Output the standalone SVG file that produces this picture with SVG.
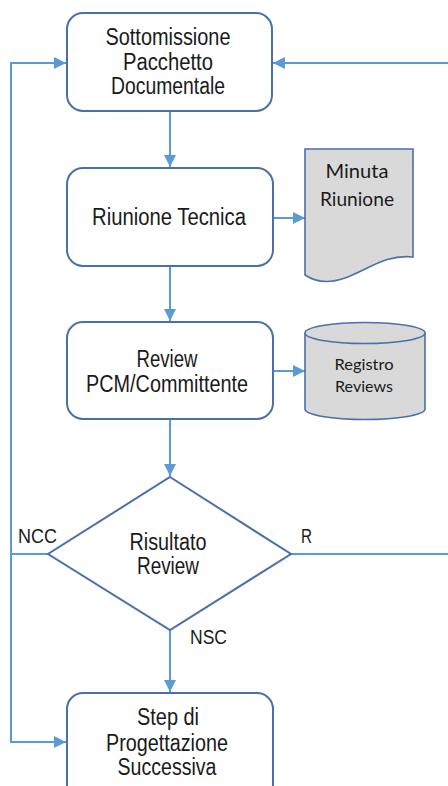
<svg xmlns="http://www.w3.org/2000/svg" width="448" height="786" viewBox="0 0 448 786">
  <style>
    .box { fill: #ffffff; stroke: #4a70aa; stroke-width: 2; }
    .store { fill: #d9d9d9; stroke: #4a70aa; stroke-width: 1.6; }
    .conn { fill: none; stroke: #5b9bd5; stroke-width: 2; }
    .t { font-family: "Liberation Sans", Arial, sans-serif; font-size: 23px; fill: #1a1a1a; text-anchor: middle; }
    .lbl { font-family: "Liberation Sans", Arial, sans-serif; font-size: 20px; fill: #1a1a1a; }
    .c { font-family: Lato, "Open Sans", sans-serif; fill: #1a1a1a; text-anchor: middle; }
  </style>
  <defs>
    <marker id="arrow" markerUnits="userSpaceOnUse" markerWidth="12" markerHeight="12" viewBox="0 0 12 12" refX="12" refY="6" orient="auto">
      <path d="M0,0 L12,6 L0,12 Z" fill="#5b9bd5"/>
    </marker>
  </defs>

  <!-- connectors -->
  <g id="connectors">
    <path class="conn" d="M170,111 V167" marker-end="url(#arrow)"/>
    <path class="conn" d="M170,266 V321" marker-end="url(#arrow)"/>
    <path class="conn" d="M170,419 V476" marker-end="url(#arrow)"/>
    <path class="conn" d="M170,630 V692" marker-end="url(#arrow)"/>
    <path class="conn" d="M273,218 H305" marker-end="url(#arrow)"/>
    <path class="conn" d="M273,371 H305" marker-end="url(#arrow)"/>
    <!-- NCC loop back to submission and forward to next step -->
    <path class="conn" d="M48,554 H11 V63 H66" marker-end="url(#arrow)"/>
    <path class="conn" d="M11,554 V742 H66" marker-end="url(#arrow)"/>
    <!-- R loop back to submission -->
    <path class="conn" d="M291,554 H452 V63 H273" marker-end="url(#arrow)"/>
    <text class="lbl" x="18" y="543" textLength="39" lengthAdjust="spacingAndGlyphs">NCC</text>
    <text class="lbl" x="301" y="543" textLength="11" lengthAdjust="spacingAndGlyphs">R</text>
    <text class="lbl" x="190" y="644" textLength="37" lengthAdjust="spacingAndGlyphs">NSC</text>
  </g>

  <g id="sottomissione">
    <rect class="box" x="67" y="13" width="205" height="98" rx="16"/>
    <text class="t" x="168" y="45" textLength="125" lengthAdjust="spacingAndGlyphs">Sottomissione</text>
    <text class="t" x="168" y="70" textLength="90" lengthAdjust="spacingAndGlyphs">Pacchetto</text>
    <text class="t" x="168" y="94" textLength="114" lengthAdjust="spacingAndGlyphs">Documentale</text>
  </g>

  <g id="riunione">
    <rect class="box" x="67" y="168" width="206" height="98" rx="16"/>
    <text class="t" x="169" y="225" textLength="154" lengthAdjust="spacingAndGlyphs">Riunione  Tecnica</text>
  </g>

  <g id="minuta">
    <path class="store" d="M305,149 H413 V257 C385,254 368,270 345,278 C328,284 314,281 305,275 Z"/>
    <text class="c" x="357" y="178" font-size="19" textLength="63" lengthAdjust="spacingAndGlyphs">Minuta</text>
    <text class="c" x="357" y="206" font-size="19" textLength="74" lengthAdjust="spacingAndGlyphs">Riunione</text>
  </g>

  <g id="review">
    <rect class="box" x="67" y="322" width="206" height="97" rx="16"/>
    <text class="t" x="167" y="367" textLength="61" lengthAdjust="spacingAndGlyphs">Review</text>
    <text class="t" x="167" y="392" textLength="162" lengthAdjust="spacingAndGlyphs">PCM/Committente</text>
  </g>

  <g id="registro">
    <path class="store" d="M305,333 V409 A60,10.5 0 0 0 425,409 V333"/>
    <ellipse class="store" cx="365" cy="333" rx="60" ry="10.5"/>
    <text class="c" x="364" y="370" font-size="16" textLength="59" lengthAdjust="spacingAndGlyphs">Registro</text>
    <text class="c" x="364" y="392" font-size="16" textLength="58" lengthAdjust="spacingAndGlyphs">Reviews</text>
  </g>

  <g id="risultato">
    <path class="box" d="M170,477 L291,554 L170,630 L48,554 Z"/>
    <text class="t" x="168" y="550" textLength="77" lengthAdjust="spacingAndGlyphs">Risultato</text>
    <text class="t" x="168" y="574" textLength="62" lengthAdjust="spacingAndGlyphs">Review</text>
  </g>

  <g id="step">
    <rect class="box" x="67" y="693" width="206" height="110" rx="16"/>
    <text class="t" x="168" y="725" textLength="62" lengthAdjust="spacingAndGlyphs">Step di</text>
    <text class="t" x="167" y="751" textLength="122" lengthAdjust="spacingAndGlyphs">Progettazione</text>
    <text class="t" x="167" y="775" textLength="99" lengthAdjust="spacingAndGlyphs">Successiva</text>
  </g>
</svg>
